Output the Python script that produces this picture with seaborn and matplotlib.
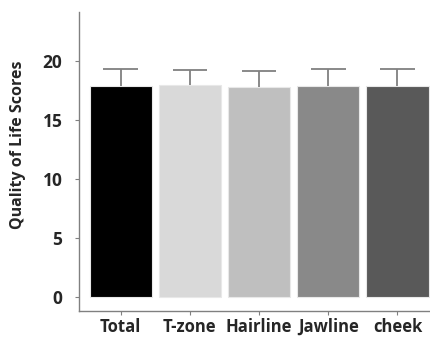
import numpy as np
import pandas as pd
import matplotlib
matplotlib.use('Agg')
import matplotlib.pyplot as plt
import seaborn as sns

# data
regions = ['Total', 'T-zone', 'Hairline', 'Jawline', 'cheek']
means = [17.83, 17.92, 17.75, 17.85, 17.83]
sds = [1.45, 1.30, 1.35, 1.40, 1.42]
bar_colors = ['#000000', '#d9d9d9', '#bfbfbf', '#898989', '#595959']

sns.set_style('white')
plt.rcParams['font.family'] = ['Open Sans', 'DejaVu Sans']

df = pd.DataFrame({'region': regions, 'score': means, 'sd': sds})
df['upper'] = df['score'] + df['sd']

fig = plt.figure(figsize=(4.30, 3.37), dpi=100)
ax = fig.add_axes([0.184, 0.077, 0.816, 0.887])

sns.barplot(data=df, x='region', y='score', hue='region', palette=bar_colors,
            legend=False, width=0.9, edgecolor='#e8e8e8', linewidth=0.8,
            errorbar=None, ax=ax)

# upper error bars only (stem from bar top + cap)
xpos = np.arange(len(regions))
ax.vlines(xpos, df['score'], df['upper'], color='#808080', lw=1.3)
ax.hlines(df['upper'], xpos - 0.25, xpos + 0.25, color='#808080', lw=1.3)

ax.set_ylim(-1.2, 24.1)
ax.set_xlim(-0.6, 4.47)
ax.set_yticks([0, 5, 10, 15, 20])
ax.set_xlabel('')
ax.set_ylabel('Quality of Life Scores', fontsize=11.5, fontweight='bold')
ax.yaxis.set_label_coords(-0.152, 0.555)

for s in ['top', 'right']:
    ax.spines[s].set_visible(False)
for s in ['left', 'bottom']:
    ax.spines[s].set_color('#808080')
    ax.spines[s].set_linewidth(1.0)

ax.tick_params(axis='both', which='both', direction='out', length=3, width=0.8,
               color='#808080', labelsize=12.5, left=True, bottom=True)
ax.tick_params(axis='x', labelsize=12, pad=2)
ax.tick_params(axis='y', pad=9)
for lbl in ax.get_xticklabels() + ax.get_yticklabels():
    lbl.set_fontweight('bold')

fig.savefig('out.png', dpi=100)
